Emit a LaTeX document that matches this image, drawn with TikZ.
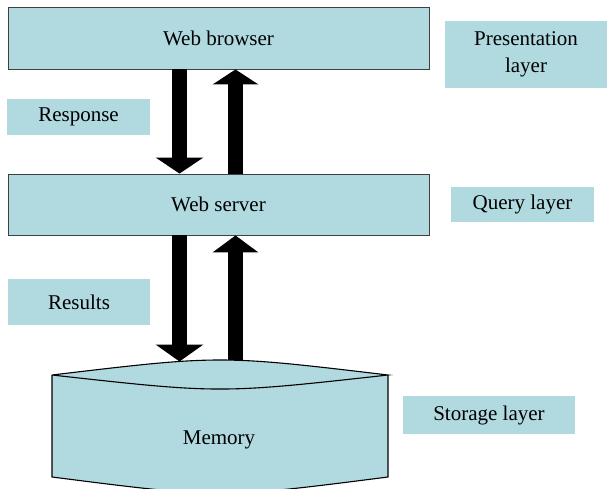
\documentclass[tikz,border=0pt]{standalone}
\usepackage{fontspec}
\setmainfont{Liberation Serif}
\usetikzlibrary{arrows.meta}
\definecolor{layerblue}{RGB}{176,217,224}
\definecolor{edgegray}{RGB}{64,64,64}
\tikzset{
  tier/.style={rectangle, fill=layerblue, draw=edgegray, line width=0.9pt,
    minimum width=421pt, inner sep=0pt, font=\fontsize{21}{27}\selectfont},
  tag/.style={rectangle, fill=layerblue, inner sep=0pt, align=center,
    font=\fontsize{21}{27}\selectfont},
  flow/.style={line width=15pt, -{Triangle[width=47pt,length=16pt]}},
}
\begin{document}
\begin{tikzpicture}[x=1pt,y=-1pt]
  \useasboundingbox (0,0) rectangle (608,489);

  % tiers
  \node[tier, minimum height=62pt] (wb) at (218.5,38) {Web browser};
  \node[tier, minimum height=61pt] (ws) at (218.5,204.5) {Web server};

  % storage cylinder
  \begin{scope}
    \clip (0,0) rectangle (608,489);
    \fill[layerblue] (52,375) .. controls (220,355) .. (388,375)
      -- (388,477) .. controls (220,498.5) .. (52,477) -- cycle;
    \draw[line width=1.1pt] (52,375) .. controls (220,355) .. (388,375)
      .. controls (220,393.7) .. (52,375);
    \draw[line width=1.1pt] (52,375) -- (52,477) .. controls (220,498.5) .. (388,477) -- (388,375);
  \end{scope}
  \node[font=\fontsize{21}{27}\selectfont] (mem) at (219,440) {Memory};
  \coordinate (m1) at (179.5,361.5);
  \coordinate (m2) at (235.5,360.3);

  % request/response arrows
  \draw[flow] ([xshift=-39pt]wb.south) -- ([xshift=-39pt]ws.north);
  \draw[flow, -{Triangle[width=45pt,length=15pt]}] ([xshift=17pt]ws.north) -- ([xshift=17pt]wb.south);
  \draw[flow, -{Triangle[width=47pt,length=17pt]}] ([xshift=-39pt]ws.south) -- (m1);
  \draw[flow, -{Triangle[width=45pt,length=17pt]}] (m2) -- ([xshift=17pt]ws.south);

  % labels
  \node[tag, minimum width=143pt, minimum height=36pt] (resp) at (78.5,117) {Response};
  \node[tag, minimum width=142pt, minimum height=46pt] (res) at (79,302) {Results};
  \node[tag, minimum width=162pt, minimum height=67pt] (pres) at (526,54.5) {Presentation\\layer};
  \node[tag, minimum width=143pt, minimum height=35pt] (query) at (522.5,204.5) {Query layer};
  \node[tag, minimum width=172pt, minimum height=38pt] (stor) at (489,415) {Storage layer};
\end{tikzpicture}
\end{document}
